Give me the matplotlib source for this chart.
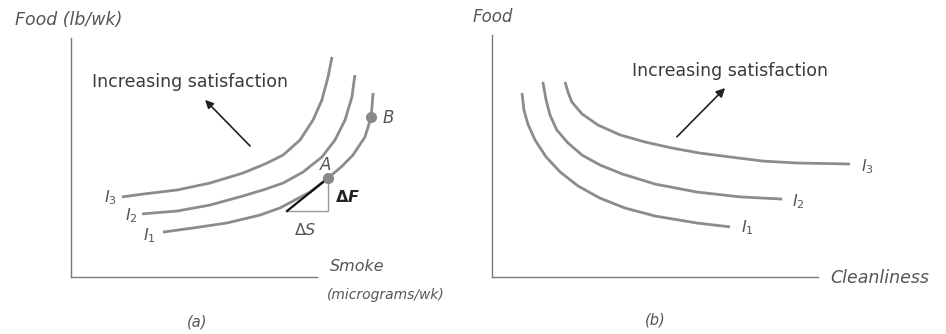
import matplotlib
matplotlib.use("Agg")
import matplotlib.pyplot as plt

# ---------------- data: panel (a) Food vs Smoke ----------------
a_I1_x = [3.74, 4.96, 6.34, 7.68, 8.50, 9.72, 10.45, 10.98, 11.46, 11.95, 12.20, 12.28]
a_I1_y = [1.88, 2.05, 2.26, 2.59, 2.89, 3.56, 4.14, 4.60, 5.10, 5.86, 6.69, 7.70]
a_I2_x = [2.89, 4.31, 5.65, 6.99, 7.80, 8.62, 9.43, 10.20, 10.73, 11.14, 11.42, 11.54]
a_I2_y = [2.64, 2.76, 3.01, 3.39, 3.64, 3.93, 4.39, 5.02, 5.73, 6.57, 7.53, 8.45]
a_I3_x = [2.07, 2.93, 4.31, 5.65, 6.99, 7.89, 8.62, 9.31, 9.84, 10.20, 10.45, 10.61]
a_I3_y = [3.35, 3.47, 3.64, 3.93, 4.35, 4.73, 5.10, 5.73, 6.57, 7.41, 8.37, 9.21]
point_A = (10.45, 4.14)
point_B = (12.20, 6.69)
tangent_start = (8.78, 2.76)

# ---------------- data: panel (b) Food vs Cleanliness ----------------
b_I1_x = [0.92, 0.98, 1.10, 1.32, 1.66, 2.09, 2.64, 3.31, 4.08, 5.00, 6.29, 7.30]
b_I1_y = [7.60, 6.90, 6.32, 5.66, 4.96, 4.34, 3.76, 3.26, 2.85, 2.52, 2.23, 2.07]
b_I2_x = [1.56, 1.66, 1.78, 1.99, 2.33, 2.76, 3.31, 3.99, 5.00, 6.29, 7.61, 8.90]
b_I2_y = [8.06, 7.31, 6.69, 6.07, 5.54, 5.04, 4.63, 4.26, 3.84, 3.51, 3.31, 3.22]
b_I3_x = [2.24, 2.33, 2.45, 2.76, 3.25, 3.93, 4.69, 5.52, 6.38, 7.30, 8.31, 9.36, 10.98]
b_I3_y = [8.06, 7.64, 7.23, 6.74, 6.28, 5.87, 5.58, 5.33, 5.12, 4.96, 4.79, 4.71, 4.67]

curve_labels = [r"$I_1$", r"$I_2$", r"$I_3$"]

CURVE_COLOR = "#8c8c8c"
AXIS_COLOR = "#7a7a7a"
TEXT_COLOR = "#3a3a3a"
LABEL_COLOR = "#555555"

fig = plt.figure(figsize=(9.46, 3.34), dpi=100)
ax_a = fig.add_axes([71/946, 57/334, 246/946, 239/334])
ax_b = fig.add_axes([492/946, 57/334, 326/946, 242/334])

for ax in (ax_a, ax_b):
    ax.set_xlim(0, 10)
    ax.set_ylim(0, 10)
    ax.set_xticks([])
    ax.set_yticks([])
    for s in ("top", "right"):
        ax.spines[s].set_visible(False)
    for s in ("left", "bottom"):
        ax.spines[s].set_color(AXIS_COLOR)
        ax.spines[s].set_linewidth(1.0)
    ax.patch.set_alpha(0)

line_kw = dict(color=CURVE_COLOR, lw=2.0, clip_on=False,
               solid_capstyle="butt", solid_joinstyle="round")

# ---- panel (a)
for xs, ys in ((a_I1_x, a_I1_y), (a_I2_x, a_I2_y), (a_I3_x, a_I3_y)):
    ax_a.plot(xs, ys, **line_kw)

# triangle
ax_a.plot([tangent_start[0], point_A[0], point_A[0]],
          [tangent_start[1], tangent_start[1], point_A[1]],
          color="#9a9a9a", lw=1.0, clip_on=False)
ax_a.plot([tangent_start[0], point_A[0]], [tangent_start[1], point_A[1]],
          color="#111111", lw=1.6, clip_on=False)
ax_a.plot(*point_A, "o", color="#888888", ms=7, clip_on=False, zorder=5)
ax_a.plot(*point_B, "o", color="#888888", ms=7, clip_on=False, zorder=5)

lab_kw = dict(fontsize=12, color=LABEL_COLOR, style="italic")
ax_a.text(10.33, 4.69, "A", ha="center", va="center", **lab_kw)
ax_a.text(12.90, 6.65, "B", ha="center", va="center", **lab_kw)
ax_a.text(10.73, 3.35, r"$\mathbf{\Delta}\boldsymbol{F}$", ha="left", va="center",
          fontsize=11.5, color="#222222")
ax_a.text(9.51, 1.97, r"$\Delta S$", ha="center", va="center",
          fontsize=11.5, color=LABEL_COLOR)

for lbl, (x, y) in zip(curve_labels, [(3.17, 1.72), (2.44, 2.55), (1.59, 3.31)]):
    ax_a.text(x, y, lbl, ha="center", va="center", fontsize=11.5, color=LABEL_COLOR)

ax_a.annotate("", xy=(5.45, 7.41), xytext=(7.28, 5.48),
              arrowprops=dict(arrowstyle="-|>", color="#222222", lw=1.2,
                              mutation_scale=12, shrinkA=0, shrinkB=0))
ax_a.text(0.85, 8.16, "Increasing satisfaction", ha="left", va="center",
          fontsize=12.5, color=TEXT_COLOR)

ax_a.text(-0.228, 1.075, "Food (lb/wk)", transform=ax_a.transAxes,
          ha="left", va="center", fontsize=12.5, style="italic", color=LABEL_COLOR)
ax_a.text(1.053, 0.042, "Smoke", transform=ax_a.transAxes,
          ha="left", va="center", fontsize=11.5, style="italic", color=LABEL_COLOR)
ax_a.text(1.041, -0.075, "(micrograms/wk)", transform=ax_a.transAxes,
          ha="left", va="center", fontsize=10, style="italic", color=LABEL_COLOR)
ax_a.text(0.512, -0.188, "(a)", transform=ax_a.transAxes,
          ha="center", va="center", fontsize=10.5, style="italic", color=LABEL_COLOR)

# ---- panel (b)
for xs, ys in ((b_I1_x, b_I1_y), (b_I2_x, b_I2_y), (b_I3_x, b_I3_y)):
    ax_b.plot(xs, ys, **line_kw)

for lbl, (x, y) in zip(curve_labels, [(7.82, 2.02), (9.39, 3.10), (11.53, 4.55)]):
    ax_b.text(x, y, lbl, ha="center", va="center", fontsize=11.5, color=LABEL_COLOR)

ax_b.annotate("", xy=(7.15, 7.81), xytext=(5.67, 5.79),
              arrowprops=dict(arrowstyle="-|>", color="#222222", lw=1.2,
                              mutation_scale=13, shrinkA=0, shrinkB=0))
ax_b.text(4.29, 8.51, "Increasing satisfaction", ha="left", va="center",
          fontsize=12.5, color=TEXT_COLOR)

ax_b.text(-0.061, 1.074, "Food", transform=ax_b.transAxes,
          ha="left", va="center", fontsize=12, style="italic", color=LABEL_COLOR)
ax_b.text(1.037, -0.004, "Cleanliness", transform=ax_b.transAxes,
          ha="left", va="center", fontsize=12.5, style="italic", color=LABEL_COLOR)
ax_b.text(0.5, -0.178, "(b)", transform=ax_b.transAxes,
          ha="center", va="center", fontsize=10.5, style="italic", color=LABEL_COLOR)

fig.savefig("out.png", dpi=100, facecolor="white")
